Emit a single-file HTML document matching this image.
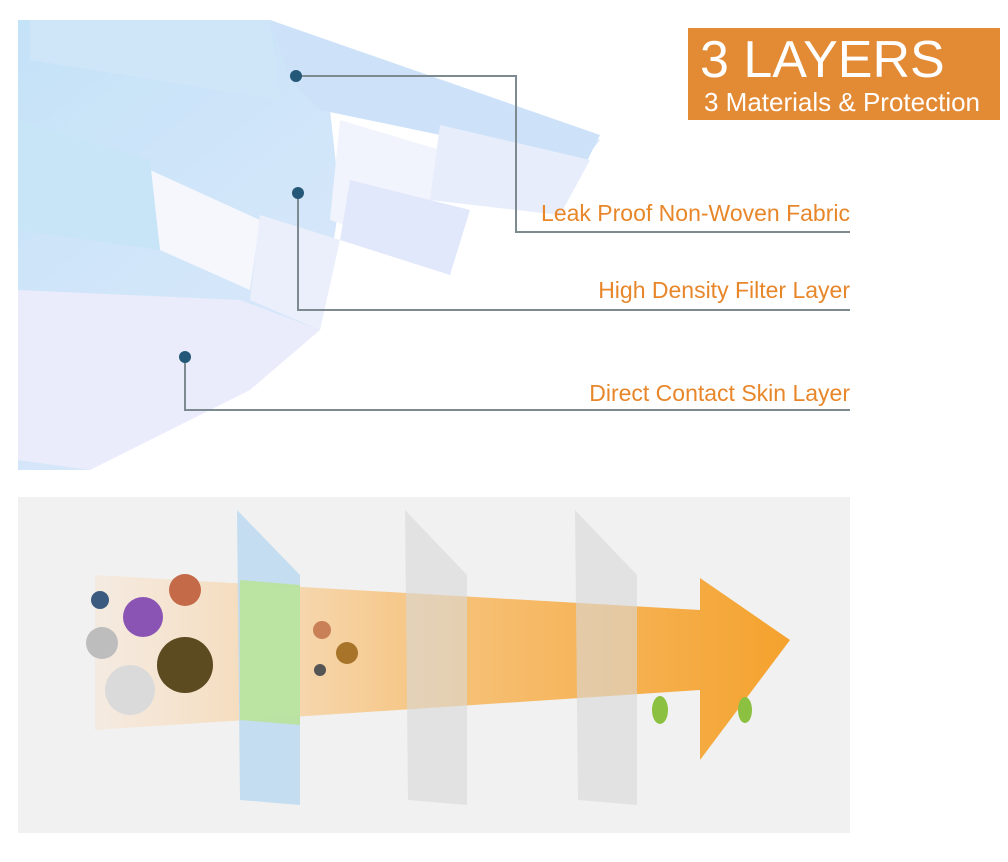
<!DOCTYPE html>
<html><head><style>
body{margin:0;width:1008px;height:862px;background:#fff;overflow:hidden;position:relative;font-family:"Liberation Sans",sans-serif}
.lbl{position:absolute;right:158px;color:#e8862a;font-size:23px;white-space:nowrap}
</style></head><body>
<svg width="1008" height="862" style="position:absolute;left:0;top:0">
<defs>
<linearGradient id="mb" x1="0" y1="0" x2="1" y2="1">
<stop offset="0" stop-color="#c4e2f8"/><stop offset="1" stop-color="#e6ebfb"/></linearGradient>
<linearGradient id="ar" x1="0" y1="0" x2="1" y2="0">
<stop offset="0" stop-color="#f7e6d6" stop-opacity=".6"/><stop offset=".5" stop-color="#f6c27a"/><stop offset="1" stop-color="#f5a22d"/></linearGradient>
</defs>
<!-- mask -->
<polygon points="18,20 270,20 600,140 580,165 330,110 340,200 320,330 90,470 18,470" fill="url(#mb)"/>
<polygon points="30,20 270,20 280,100 30,60" fill="#cfe6f8"/>
<polygon points="270,20 600,135 585,165 320,110 290,80" fill="#cde2f9"/>
<polygon points="340,120 440,150 420,250 330,220" fill="#f1f4fc"/>
<polygon points="440,125 590,160 560,215 430,200" fill="#e7edfb"/>
<polygon points="150,170 260,220 250,290 160,250" fill="#f6f7fd"/>
<polygon points="260,215 340,240 320,330 250,300" fill="#ebeffb"/>
<polygon points="350,180 470,210 450,275 340,240" fill="#e2e8fb"/>
<polygon points="18,120 150,160 160,250 18,230" fill="#c8e4f7"/>
<polygon points="18,290 240,300 320,330 250,390 90,470 18,460" fill="#eaecfb"/>
<!-- connectors -->
<g stroke="#7d8a90" stroke-width="2" fill="none">
<polyline points="296,76 516,76 516,232 850,232"/>
<polyline points="298,193 298,310 850,310"/>
<polyline points="185,357 185,410 850,410"/>
</g>
<g fill="#245878"><circle cx="296" cy="76" r="6"/><circle cx="298" cy="193" r="6"/><circle cx="185" cy="357" r="6"/></g>
<!-- bottom panel -->
<rect x="18" y="497" width="832" height="336" fill="#f1f1f1"/>
<polygon points="95,575 700,610 700,578 790,640 700,760 700,690 95,730" fill="url(#ar)"/>
<polygon points="237,510 300,575 300,805 240,800" fill="#bcd9f0" opacity=".85"/>
<polygon points="240,580 300,585 300,725 240,720" fill="#b9e39a" opacity=".9"/>
<polygon points="405,510 467,575 467,805 408,800" fill="#d8d8d8" opacity=".6"/>
<polygon points="575,510 637,575 637,805 578,800" fill="#d8d8d8" opacity=".6"/>
<circle cx="185" cy="590" r="16" fill="#c46a48"/>
<circle cx="143" cy="617" r="20" fill="#8a54b4"/>
<circle cx="100" cy="600" r="9" fill="#3a5a80"/>
<circle cx="185" cy="665" r="28" fill="#5c4a20"/>
<circle cx="102" cy="643" r="16" fill="#bdbdbd"/>
<circle cx="130" cy="690" r="25" fill="#dadada"/>
<circle cx="322" cy="630" r="9" fill="#c98056"/>
<circle cx="347" cy="653" r="11" fill="#a8742a"/>
<circle cx="320" cy="670" r="6" fill="#555"/>
<ellipse cx="660" cy="710" rx="8" ry="14" fill="#8cc040"/>
<ellipse cx="745" cy="710" rx="7" ry="13" fill="#8cc040"/>
</svg>
<div style="position:absolute;left:688px;top:28px;width:312px;height:92px;background:#e38a35;color:#fff">
<div style="position:absolute;left:12px;top:4px;font-size:52px;line-height:56px">3 LAYERS</div>
<div style="position:absolute;left:16px;top:60px;font-size:26px;line-height:28px;white-space:nowrap">3 Materials &amp; Protection</div>
</div>
<div class="lbl" style="top:200px">Leak Proof Non-Woven Fabric</div>
<div class="lbl" style="top:277px">High Density Filter Layer</div>
<div class="lbl" style="top:380px">Direct Contact Skin Layer</div>
</body></html>
